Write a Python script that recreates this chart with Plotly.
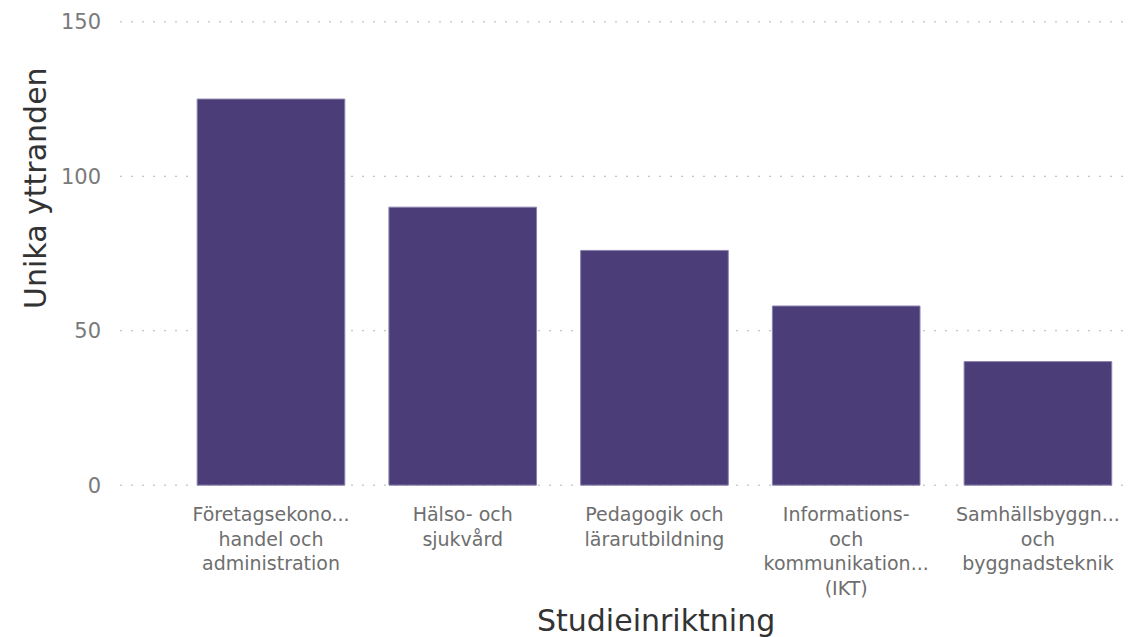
import plotly.graph_objects as go

categories = [
    "Företagsekono...<br>handel och<br>administration",
    "Hälso- och<br>sjukvård",
    "Pedagogik och<br>lärarutbildning",
    "Informations-<br>och<br>kommunikation...<br>(IKT)",
    "Samhällsbyggn...<br>och<br>byggnadsteknik",
]
values = [125, 90, 76, 58, 40]
y_ticks = [0, 50, 100, 150]
x_title = "Studieinriktning"
y_title = "Unika yttranden"

FONT = "DejaVu Sans"

fig = go.Figure()
fig.add_trace(go.Bar(
    x=list(range(len(categories))),
    y=values,
    marker=dict(color="#4B3D78", line=dict(color="#8C82AE", width=1)),
    width=0.77,
    hovertemplate="%{y}<extra></extra>",
))

# dotted horizontal gridlines (drawn as shapes so the ones at 0 and 150 show)
for t in y_ticks:
    fig.add_shape(
        type="line", xref="paper", yref="y", x0=0, x1=1, y0=t, y1=t,
        line=dict(color="#B4B4B4", width=1, dash="2px,9px"), layer="below",
    )

W, H = 1129, 637
ml, mr, mt, mb = 120, 0, 20, 150
pw, ph = W - ml - mr, H - mt - mb
fig.update_layout(
    width=W, height=H,
    margin=dict(l=ml, r=mr, t=mt, b=mb),
    paper_bgcolor="white", plot_bgcolor="white",
    showlegend=False,
    font=dict(family=FONT, color="#666666"),
)
fig.update_xaxes(
    tickmode="array",
    tickvals=list(range(len(categories))),
    ticktext=categories,
    range=[-0.7875, 4.475],
    showgrid=False, zeroline=False, showline=False,
    ticks="", tickfont=dict(size=19, color="#6E6E6E"),
    ticklabelstandoff=14,
)
fig.update_yaxes(
    range=[-0.6, 150.6],
    tickvals=y_ticks,
    showgrid=False,
    zeroline=False, showline=False, ticks="",
    tickfont=dict(size=21, color="#7A7A7A"),
    ticklabelstandoff=18,
)
fig.add_annotation(
    text=x_title, xref="paper", yref="paper",
    x=(656 - ml) / pw, y=-(620 - (H - mb)) / ph,
    xanchor="center", yanchor="middle", showarrow=False,
    font=dict(size=30, color="#333333", family=FONT),
)
fig.add_annotation(
    text=y_title, xref="paper", yref="paper", textangle=-90,
    x=(35 - ml) / pw, y=(H - mb - 188) / ph,
    xanchor="center", yanchor="middle", showarrow=False,
    font=dict(size=30, color="#333333", family=FONT),
)
fig.write_html(
    "out.html",
    config={"displayModeBar": False},
    post_script="document.body.style.margin='0';document.body.style.overflow='hidden';",
)
